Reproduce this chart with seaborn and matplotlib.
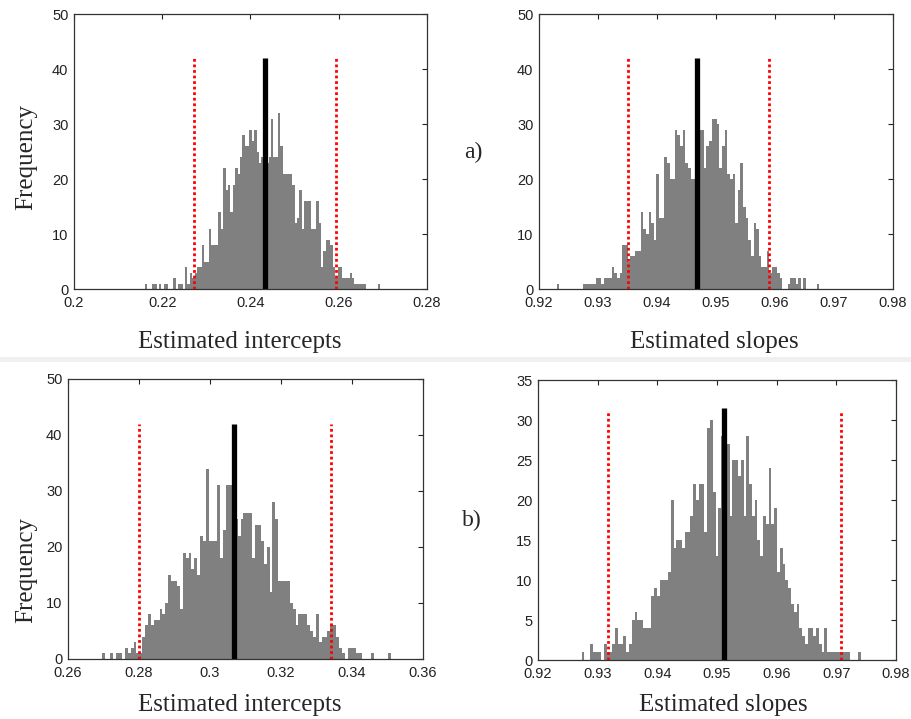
import numpy as np
import pandas as pd
import matplotlib
matplotlib.use("Agg")
import matplotlib.pyplot as plt
import seaborn as sns
from matplotlib.lines import Line2D

# ---------------- data ----------------
# histogram counts (100 bins each), bins spanning [lo, hi]
counts_a_int = [1,0,0,1,1,0,1,0,1,1, 0,0,2,0,1,1,0,4,1,3,
                2,3,4,4,8,5,5,11,8,8, 8,14,11,22,18,19,14,19,22,21,
                24,28,26,26,29,27,29,25,23,24, 24,23,24,31,24,24,32,26,21,21,
                21,21,19,12,13,18,11,16,16,16, 11,11,16,12,4,7,9,9,8,4,
                2,4,4,2,2,2,3,2,1,1, 1,1,1,0,0,0,0,0,1,0]
range_a_int = [0.2160, 0.2700]

counts_a_slp = [1,0,0,0,0,0,0,0,0,0, 1,1,1,1,1,2,2,1,2,2,
                2,4,3,2,3,8,8,5,6,6, 7,7,14,11,10,14,12,9,21,13,
                13,24,23,20,20,29,28,26,29,23, 22,20,20,25,29,29,22,26,27,31,
                31,30,22,26,29,21,20,21,12,18, 23,15,13,9,6,12,11,6,4,4,
                7,3,4,4,3,2,0,0,1,2, 2,1,2,0,2,0,0,0,0,1]
range_a_slp = [0.9230, 0.9675]

counts_b_int = [1,0,0,1,0,1,1,0,2,1, 2,3,1,1,4,6,8,6,7,7,
                9,8,10,15,14,14,13,9,19,18, 19,16,18,15,22,21,34,21,21,21,
                31,18,23,31,31,25,25,22,25,26, 26,26,18,24,24,21,17,20,12,28,
                25,14,14,14,14,10,9,6,8,8, 8,6,5,4,8,3,4,4,5,6,
                6,4,2,1,0,2,2,2,1,1, 0,0,0,1,0,0,0,0,0,1]
range_b_int = [0.2695, 0.3510]

counts_b_slp = [1,0,0,2,1,1,1,0,2,1, 1,2,4,2,2,3,1,2,5,6,
                5,5,4,4,4,8,9,8,10,10, 10,11,20,14,15,15,14,16,16,18,
                22,20,22,22,16,29,30,21,13,19, 28,31,27,18,25,25,23,25,18,28,
                22,18,20,15,13,18,17,24,17,19, 11,14,12,10,9,7,6,7,4,3,
                2,4,4,3,4,2,1,4,1,1, 1,1,1,1,1,1,0,0,0,1]
range_b_slp = [0.9273, 0.9741]

# estimate (black line), 95% limits (red dotted), line heights
est_values = [0.2433, 0.9468, 0.3068, 0.9511]
ci_low = [0.2273, 0.9350, 0.2801, 0.9318]
ci_high = [0.2593, 0.9590, 0.3341, 0.9707]
line_tops = [42, 42, 42, 31.5]
ci_tops = [42, 42, 42, 31.2]

# axis ticks
xticks_a_int = [0.2, 0.22, 0.24, 0.26, 0.28]
xticks_slp = [0.92, 0.93, 0.94, 0.95, 0.96, 0.97, 0.98]
xticks_b_int = [0.26, 0.28, 0.30, 0.32, 0.34, 0.36]
yticks_50 = [0, 10, 20, 30, 40, 50]
yticks_35 = [0, 5, 10, 15, 20, 25, 30, 35]

xlabel_int = "Estimated intercepts"
xlabel_slp = "Estimated slopes"
ylabel = "Frequency"
row_tags = ["a)", "b)"]

# ---------------- figure ----------------
sns.set_style("white")
plt.rcParams["font.family"] = ["Liberation Sans", "DejaVu Sans"]

W, H = 912, 719
fig = plt.figure(figsize=(W / 100, H / 100), dpi=100)

def px_rect(l, t, r, b):
    return [l / W, 1 - b / H, (r - l) / W, (b - t) / H]

panels = [
    dict(rect=px_rect(74, 14, 427, 289), counts=counts_a_int, rng=range_a_int,
         xt=xticks_a_int, xlim=(0.2, 0.28), yt=yticks_50, ylim=(0, 50)),
    dict(rect=px_rect(539, 14, 893, 289), counts=counts_a_slp, rng=range_a_slp,
         xt=xticks_slp, xlim=(0.92, 0.98), yt=yticks_50, ylim=(0, 50)),
    dict(rect=px_rect(68, 379, 423, 659), counts=counts_b_int, rng=range_b_int,
         xt=xticks_b_int, xlim=(0.26, 0.36), yt=yticks_50, ylim=(0, 50)),
    dict(rect=px_rect(538, 380, 896, 660), counts=counts_b_slp, rng=range_b_slp,
         xt=xticks_slp, xlim=(0.92, 0.98), yt=yticks_35, ylim=(0, 35)),
]

def fmt(v):
    return f"{v:.2f}".rstrip("0").rstrip(".")

for i, p in enumerate(panels):
    ax = fig.add_axes(p["rect"])
    counts = np.array(p["counts"], dtype=float)
    nb = len(counts)
    lo, hi = p["rng"]
    w = (hi - lo) / nb
    centers = lo + w * (np.arange(nb) + 0.5)
    df = pd.DataFrame({"value": centers, "count": counts})
    sns.histplot(data=df, x="value", weights="count", bins=nb, binrange=(lo, hi),
                 ax=ax, color="#808080", alpha=1.0, linewidth=0, element="bars")
    ax.vlines(est_values[i], 0, line_tops[i], color="black", linewidth=3.8, zorder=5)
    for c in (ci_low[i], ci_high[i]):
        ax.vlines(c, 0, ci_tops[i], color="#ff0000", linewidth=2.0,
                  linestyles=(0, (1, 1)), zorder=6)
    ax.set_xlim(*p["xlim"])
    ax.set_ylim(*p["ylim"])
    ax.set_xticks(p["xt"])
    ax.set_xticklabels([fmt(v) for v in p["xt"]])
    ax.set_yticks(p["yt"])
    ax.set_yticklabels([str(v) for v in p["yt"]])
    ax.set_xlabel("")
    ax.set_ylabel("")
    ax.tick_params(direction="in", top=True, right=True, length=3.5, width=0.8,
                   labelsize=10.5, colors="#222222")
    ax.tick_params(axis="x", pad=5)
    ax.tick_params(axis="y", pad=4)
    for sp in ax.spines.values():
        sp.set_visible(True)
        sp.set_color("#333333")
        sp.set_linewidth(0.9)

serif = ["Liberation Serif", "DejaVu Serif"]
fs = 18

fig.text(240 / W, 1 - 342 / H, xlabel_int, ha="center", va="center", fontsize=fs, family=serif)
fig.text(714 / W, 1 - 342 / H, xlabel_slp, ha="center", va="center", fontsize=fs, family=serif)
fig.text(240 / W, 1 - 705 / H, xlabel_int, ha="center", va="center", fontsize=fs, family=serif)
fig.text(723 / W, 1 - 705 / H, xlabel_slp, ha="center", va="center", fontsize=fs, family=serif)
fig.text(26 / W, 1 - 157 / H, ylabel, ha="center", va="center", rotation=90, fontsize=fs, family=serif)
fig.text(26 / W, 1 - 570 / H, ylabel, ha="center", va="center", rotation=90, fontsize=fs, family=serif)
fig.text(473 / W, 1 - 152 / H, row_tags[0], ha="center", va="center", fontsize=fs - 1, family=serif)
fig.text(472 / W, 1 - 520 / H, row_tags[1], ha="center", va="center", fontsize=fs - 1, family=serif)

# faint separator between rows
fig.add_artist(Line2D([0, 1], [1 - 359 / H, 1 - 359 / H], color="#f0f0f0", linewidth=3.5))

fig.savefig("out.png", dpi=100)
